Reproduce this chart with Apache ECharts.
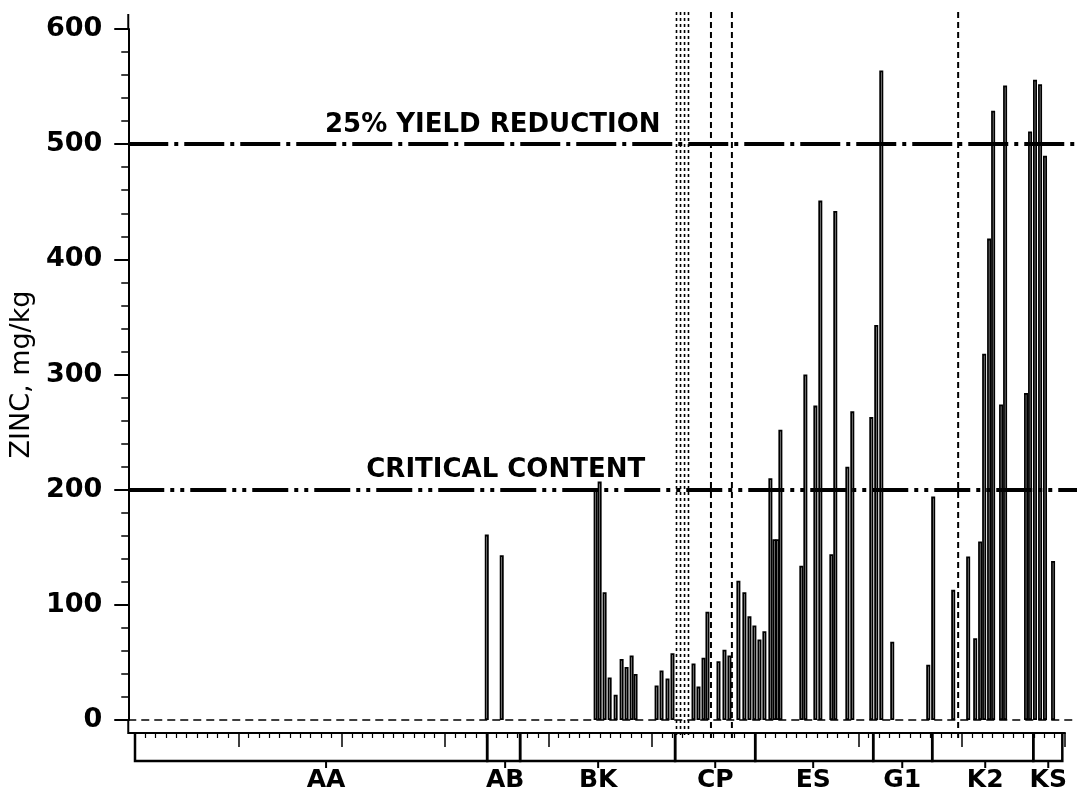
<!DOCTYPE html>
<html><head><meta charset="utf-8">
<script src="https://cdn.jsdelivr.net/npm/echarts@6/dist/echarts.min.js"></script>
<style>html,body{margin:0;padding:0;background:#fff}#c{width:1077px;height:796px}</style>
</head><body><div id="c"></div>
<script>
// Sample positions along the transect (x-axis tick units) and zinc content (mg/kg)
const sampleX = [33.98, 35.43, 44.53, 44.92, 45.40, 45.89, 46.47, 47.05, 47.53, 48.02, 48.40, 50.44, 50.92, 51.50, 51.98, 54.02, 54.50, 54.99, 55.37, 56.44, 57.02, 57.50, 58.37, 58.95, 59.44, 59.92, 60.41, 60.89, 61.47, 61.86, 62.15, 62.44, 64.47, 64.86, 65.83, 66.31, 67.38, 67.76, 68.93, 69.41, 71.25, 71.73, 72.22, 73.28, 76.77, 77.25, 79.19, 80.64, 81.32, 81.80, 82.19, 82.67, 83.06, 83.83, 84.22, 86.25, 86.64, 87.12, 87.61, 88.09, 88.87];
const zinc = [161, 143, 200, 207, 111, 37, 22, 53, 46, 56, 40, 30, 43, 36, 58, 49, 29, 54, 94, 51, 61, 56, 121, 111, 90, 82, 70, 77, 210, 157, 157, 252, 134, 300, 273, 451, 144, 442, 220, 268, 263, 343, 564, 68, 48, 194, 113, 142, 71, 155, 318, 418, 529, 274, 551, 284, 511, 556, 552, 490, 138];

// Site groups along the x axis
const groupNames = ['AA', 'AB', 'BK', 'CP', 'ES', 'G1', 'K2', 'KS'];
const groupStart = [0, 34.08, 37.27, 52.27, 60.02, 71.44, 77.15, 86.93];
const groupEnd = [34.08, 37.27, 52.27, 60.02, 71.44, 77.15, 86.93, 89.74];
const groupLabelX = [18.49, 35.82, 44.82, 56.15, 65.63, 74.25, 82.28, 88.38];

// Vertical separators
const dashedX = [55.71, 57.74, 79.67];
const dottedX = [52.37, 52.76, 53.15, 53.53];

// Reference levels
const refValues = [500, 200];
const refNames = ['25% YIELD REDUCTION', 'CRITICAL CONTENT'];
const refLabelX = [34.56, 35.82];

// Y axis
const yMin = 0, yMax = 600, yStep = 100;

const FONT = '"DejaVu Sans", sans-serif';
const chart = echarts.init(document.getElementById('c'), null, {renderer: 'canvas'});

const vline = (dash, width) => (params, api) => {
  const x = api.coord([api.value(0), 0])[0];
  const cs = params.coordSys;
  return {type: 'line', shape: {x1: x, y1: cs.y - 17, x2: x, y2: cs.y + cs.height + 18},
    style: {stroke: '#000', lineWidth: width, lineDash: dash}};
};

chart.setOption({
  backgroundColor: '#fff',
  animation: false,
  grid: [
    {left: 127, right: 0, top: 29, bottom: 76},
    {left: 135, right: 12, top: 733, height: 28}
  ],
  xAxis: [
    {type: 'value', gridIndex: 0, min: -0.77, max: 91.19, show: false},
    {type: 'value', gridIndex: 1, min: 0, max: 90, interval: 10, position: 'top',
     axisLine: {show: true, onZero: false, lineStyle: {color: '#000', width: 2}},
     axisTick: {show: true, inside: true, length: 14, lineStyle: {color: '#000', width: 1.5}},
     minorTick: {show: true, splitNumber: 10, length: 5, lineStyle: {color: '#000', width: 1.2}},
     axisLabel: {show: false}, splitLine: {show: false}}
  ],
  yAxis: [
    {type: 'value', gridIndex: 0, min: yMin, max: yMax, interval: yStep,
     name: 'ZINC, mg/kg', nameLocation: 'middle', nameGap: 88,
     nameTextStyle: {fontFamily: FONT, fontSize: 27, color: '#000'},
     axisLine: {show: true, onZero: false, lineStyle: {color: '#000', width: 2}},
     axisTick: {show: true, inside: false, length: 14, lineStyle: {color: '#000', width: 2}},
     minorTick: {show: true, splitNumber: 5, length: 7, lineStyle: {color: '#000', width: 1.5}},
     axisLabel: {fontFamily: FONT, fontWeight: 'bold', fontSize: 27, color: '#000', margin: 26},
     splitLine: {show: false}, minorSplitLine: {show: false}},
    {type: 'value', gridIndex: 1, min: 0, max: 1, show: false}
  ],
  series: [
    {
      type: 'bar', name: 'Zinc', xAxisIndex: 0, yAxisIndex: 0,
      data: sampleX.map((x, i) => [x, zinc[i]]),
      barWidth: 4,
      itemStyle: {color: 'rgba(0,0,0,0)', borderColor: '#000', borderWidth: 1.8},
      markLine: {
        silent: true, symbol: ['none', 'none'], label: {show: false},
        data: [
          {yAxis: refValues[0], lineStyle: {type: [40, 6, 4, 6], width: 4, color: '#000'}},
          {yAxis: refValues[1], lineStyle: {type: [36, 6, 4, 6, 4, 6], width: 4, color: '#000'}},
          {yAxis: 0, lineStyle: {type: [8, 5], width: 1.5, color: '#000'}}
        ]
      }
    },
    {
      type: 'scatter', xAxisIndex: 0, yAxisIndex: 0, symbolSize: 0, silent: true,
      data: refValues.map((v, i) => ({name: refNames[i], value: [refLabelX[i], v]})),
      label: {show: true, position: 'top', distance: 6, formatter: '{b}', opacity: 1,
        fontFamily: FONT, fontWeight: 'bold', fontSize: 26, color: '#000'}
    },
    {
      type: 'custom', xAxisIndex: 0, yAxisIndex: 0, clip: false, silent: true, z: 5,
      data: dashedX.map(x => [x, 0]), renderItem: vline([6, 4], 2)
    },
    {
      type: 'custom', xAxisIndex: 0, yAxisIndex: 0, clip: false, silent: true, z: 5,
      data: dottedX.map(x => [x, 0]), renderItem: vline([3, 3], 1.6)
    },
    {
      // axis frame extensions
      type: 'custom', xAxisIndex: 0, yAxisIndex: 0, clip: false, silent: true,
      data: [[0, 0]],
      renderItem: (params, api) => {
        const cs = params.coordSys;
        const x = cs.x, top = cs.y, bot = cs.y + cs.height;
        return {type: 'group', children: [
          {type: 'line', shape: {x1: x, y1: top - 15, x2: x, y2: top}, style: {stroke: '#000', lineWidth: 2}},
          {type: 'polyline', shape: {points: [[x, bot], [x, bot + 13], [x + 8, bot + 13]]}, style: {stroke: '#000', lineWidth: 2, fill: null}}
        ]};
      }
    },
    {
      type: 'custom', xAxisIndex: 1, yAxisIndex: 1, clip: false, silent: true,
      data: groupNames.map((n, i) => [groupStart[i], groupEnd[i], groupLabelX[i]]),
      renderItem: (params, api) => {
        const i = params.dataIndex;
        const cs = params.coordSys;
        const x0 = api.coord([api.value(0), 0])[0];
        const x1 = api.coord([api.value(1), 0])[0];
        const xc = api.coord([api.value(2), 0])[0];
        const top = cs.y, bot = cs.y + cs.height;
        return {type: 'group', children: [
          {type: 'polyline', shape: {points: [[x0, top], [x0, bot], [x1, bot], [x1, top]]}, style: {stroke: '#000', lineWidth: 2.5, fill: null}},
          {type: 'line', shape: {x1: xc, y1: bot, x2: xc, y2: bot + 7}, style: {stroke: '#000', lineWidth: 2}},
          {type: 'text', style: {text: groupNames[i], x: xc, y: bot + 7, align: 'center', textAlign: 'center',
            verticalAlign: 'top', textVerticalAlign: 'top', font: 'bold 25px ' + FONT, fill: '#000'}}
        ]};
      }
    }
  ]
});
</script>
</body></html>
